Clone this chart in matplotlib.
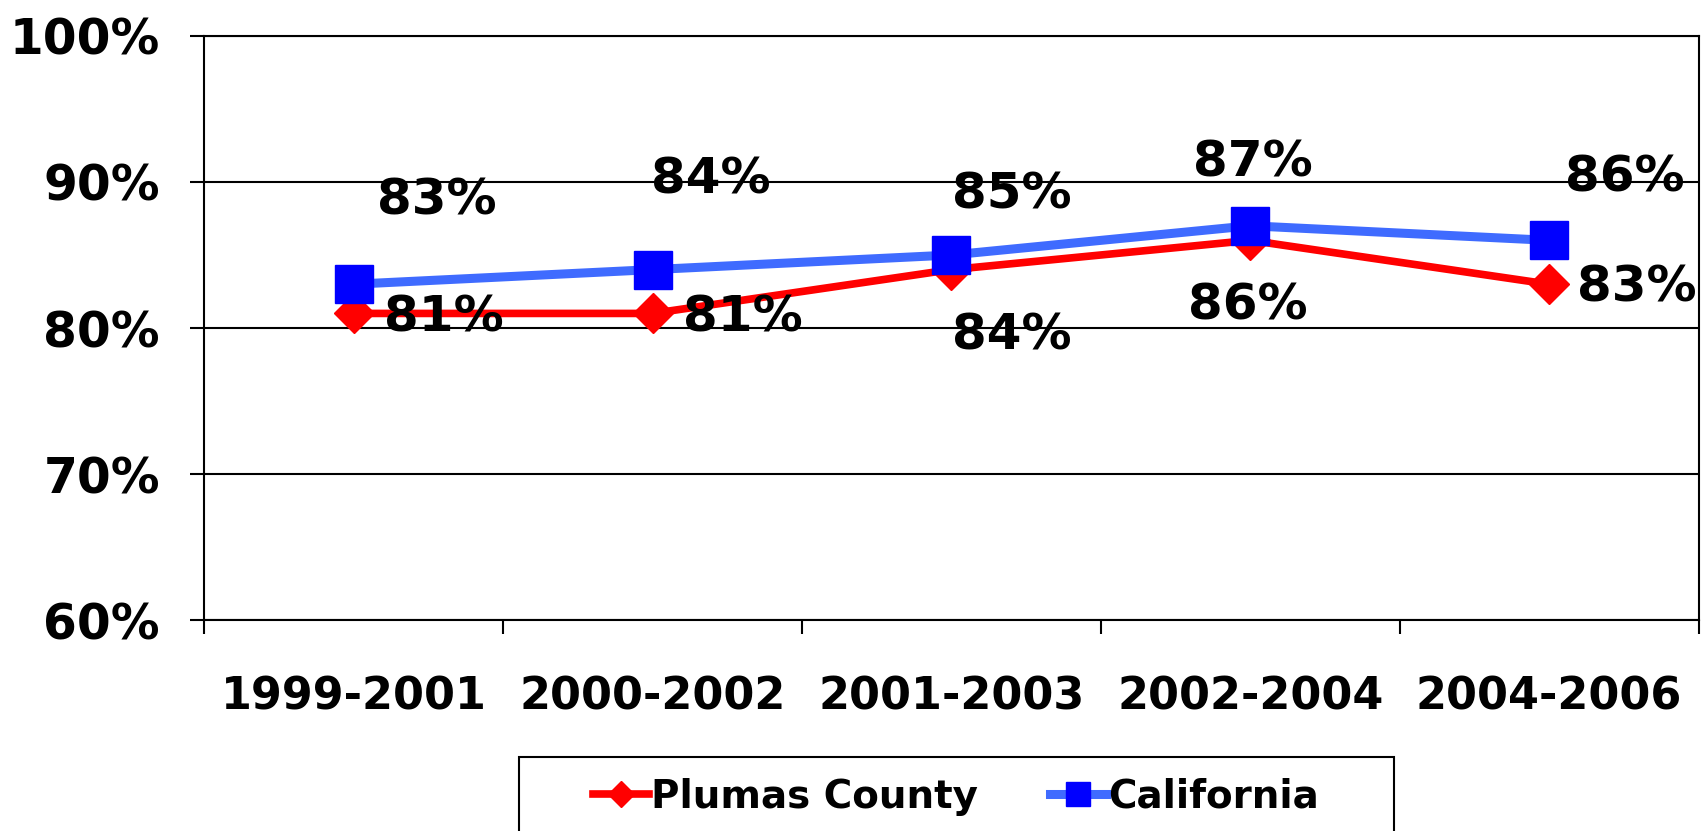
import matplotlib
matplotlib.use("Agg")
import matplotlib.pyplot as plt
from matplotlib.patches import Rectangle
from matplotlib.ticker import FixedLocator, PercentFormatter

periods = ["1999-2001", "2000-2002", "2001-2003", "2002-2004", "2004-2006"]
plumas = [81, 81, 84, 86, 83]
california = [83, 84, 85, 87, 86]

# where each value label sits relative to its point, in pixels
plumas_offsets = [(90, -4), (90, -4), (60, -66), (-2, -65), (88, -3)]
california_offsets = [(83, 84), (58, 90), (60, 60), (3, 63), (76, 63)]

RED = "#FF0000"
BLUE_LINE = "#3F6BFF"
BLUE_MARK = "#0000FF"


def main():
    plt.rcParams["font.family"] = ["DejaVu Sans"]
    plt.rcParams["font.weight"] = "bold"

    fig = plt.figure(figsize=(17.04, 8.31), dpi=100)
    ax = fig.add_axes([0.1199, 0.2536, 0.8769, 0.7033])

    x = list(range(len(periods)))
    p_line, = ax.plot(x, plumas, color=RED, lw=5.5, marker="D", ms=20,
                      mfc=RED, mec=RED, label="Plumas County", zorder=3)
    c_line, = ax.plot(x, california, color=BLUE_LINE, lw=6.5, marker="s", ms=27,
                      mfc=BLUE_MARK, mec=BLUE_MARK, label="California", zorder=4)

    for xi, v, off in zip(x, plumas, plumas_offsets):
        ax.annotate(f"{v}%", (xi, v), xytext=off, textcoords="offset pixels",
                    ha="center", va="center", fontsize=36, fontweight="bold",
                    zorder=5, annotation_clip=False)
    for xi, v, off in zip(x, california, california_offsets):
        ax.annotate(f"{v}%", (xi, v), xytext=off, textcoords="offset pixels",
                    ha="center", va="center", fontsize=36, fontweight="bold",
                    zorder=5, annotation_clip=False)

    ax.set_xlim(-0.5, len(periods) - 0.5)
    ax.set_ylim(60, 100)
    ax.set_yticks([60, 70, 80, 90, 100])
    ax.yaxis.set_major_formatter(PercentFormatter(decimals=0))
    ax.set_xticks(x)
    ax.set_xticklabels(periods)
    ax.xaxis.set_minor_locator(FixedLocator([i - 0.5 for i in range(len(periods) + 1)]))

    ax.tick_params(axis="x", which="major", length=0, pad=40, labelsize=32)
    ax.tick_params(axis="x", which="minor", length=10, width=1.5, direction="out")
    ax.tick_params(axis="y", length=10, width=1.5, direction="out", pad=22, labelsize=35)
    for lab in ax.get_xticklabels() + ax.get_yticklabels():
        lab.set_fontweight("bold")

    ax.grid(axis="y", color="black", lw=1.5)
    ax.set_axisbelow(True)
    for s in ax.spines.values():
        s.set_color("black")
        s.set_linewidth(1.5)

    ax.legend(handles=[p_line, c_line], loc="center",
              bbox_to_anchor=(0.561, 0.041), bbox_transform=fig.transFigure,
              ncol=2, frameon=False, markerscale=0.65, handlelength=1.45,
              handletextpad=0.05, columnspacing=1.85,
              prop={"size": 28, "weight": "bold"})
    fig.add_artist(Rectangle((519 / 1704, -0.05), 875 / 1704, 74 / 831 + 0.05,
                             transform=fig.transFigure, fill=False,
                             ec="black", lw=1.5))

    fig.savefig("out.png", dpi=100)


if __name__ == "__main__":
    main()
